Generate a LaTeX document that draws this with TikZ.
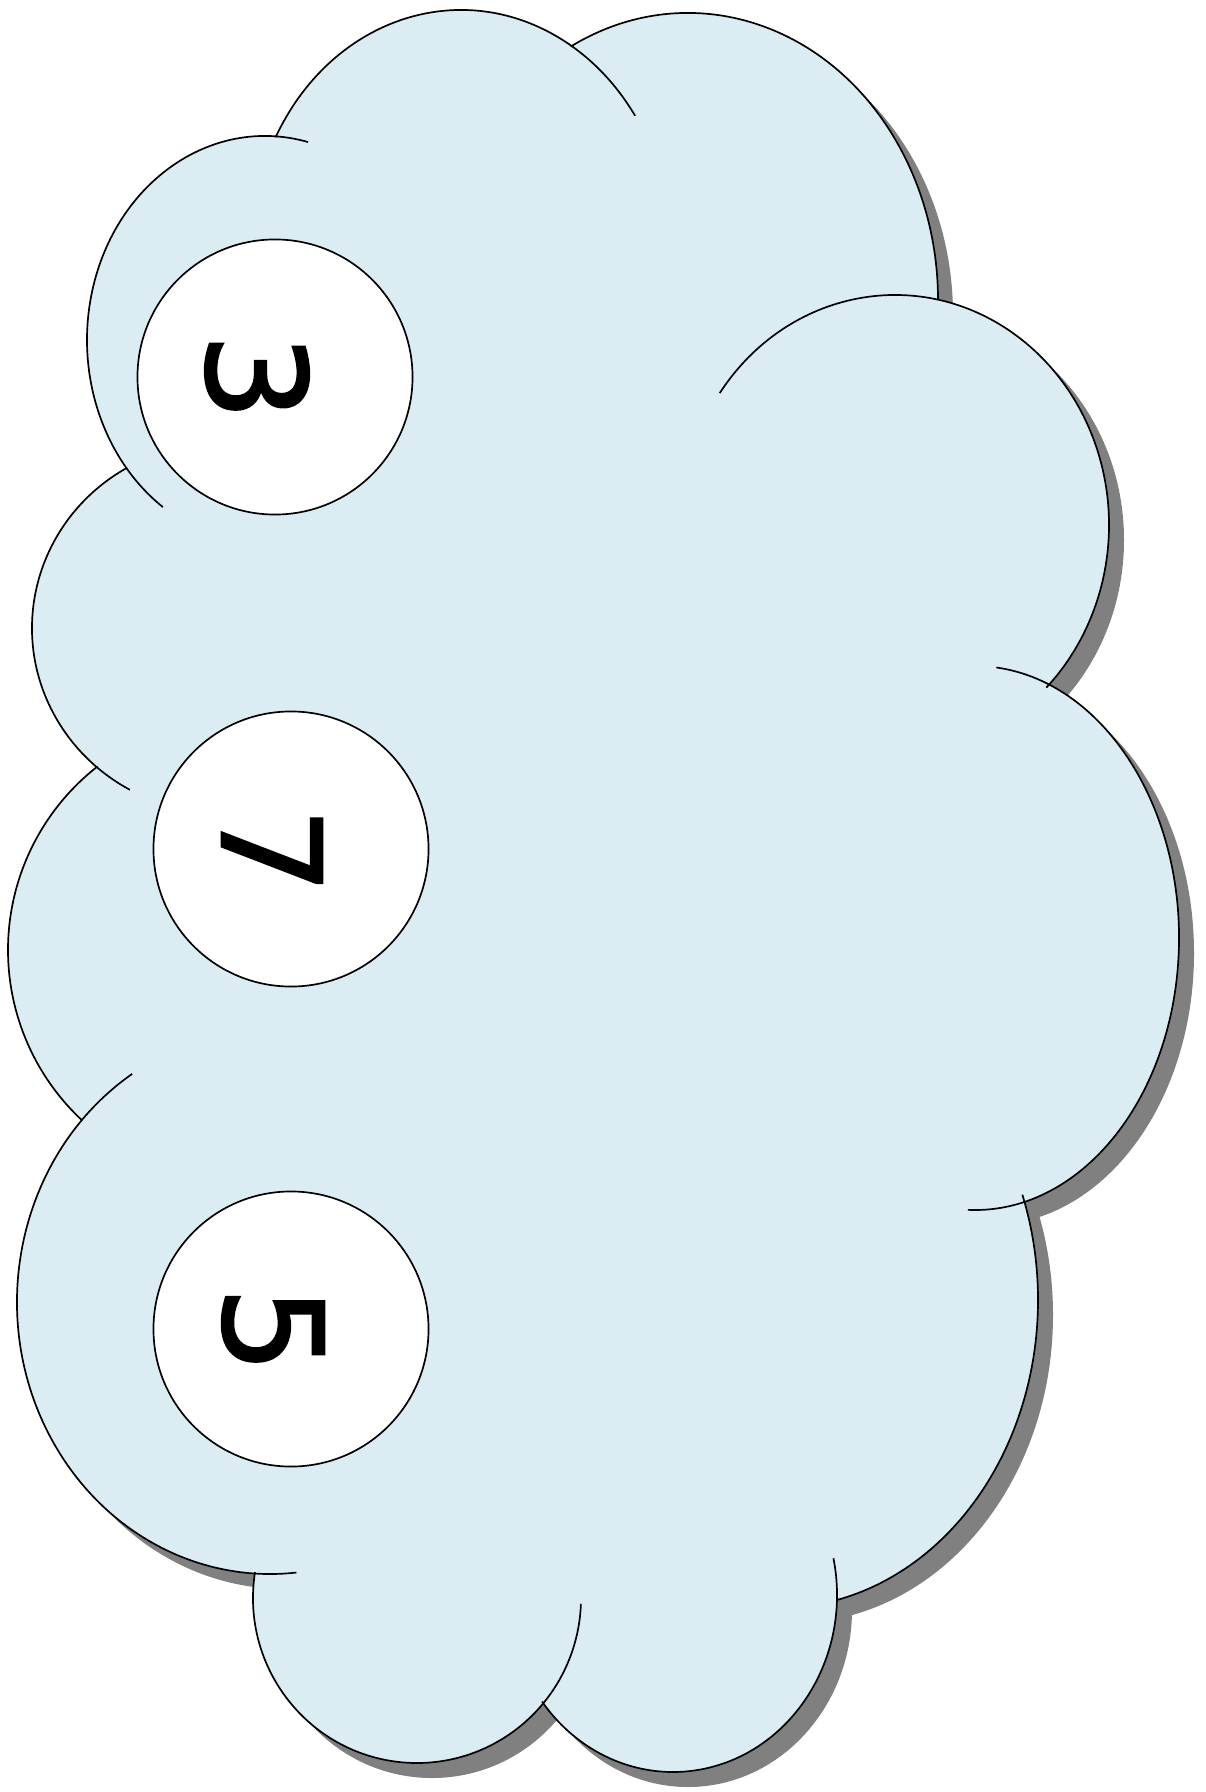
\documentclass[tikz,border=0pt]{standalone}
\usepackage{fontspec}
\usepackage{xcolor}
\usepackage{tikz}
\newfontfamily\digitfont[FakeBold=1.5]{DejaVu Sans}
\definecolor{cloudblue}{HTML}{DBEDF3}
\definecolor{shadowgray}{HTML}{808080}
% lobes: centre x/centre y/x radius/y radius/start angle/end angle
\newcommand\cloudlobes{461/250/210/240/-152/-34, 688/300/250/287/-118/0,
  895/525/214/230/-145/45, 975/938/204/272/-84/92, 778/1300/260/308/-20/77,
  673/1595/164/177/-12/143, 417/1598/164/165/189/2, 270/1302/253/272/237/84,
  241/950/233/233/232/133, 222/628/190/185/240/119, 265/340/178/204/-76/-235}

\begin{document}
\begin{tikzpicture}[x=0.025cm, y=-0.025cm,
    lobe/.style={draw=black, line width=1.2pt},
    ball/.style={circle, draw=black, fill=white, line width=1.2pt, minimum size=6.875cm, inner sep=0pt},
    digit/.style={rotate=-90, inner sep=0pt, font=\digitfont\fontsize{98}{98}\selectfont}]
    \useasboundingbox (0,0) rectangle (1205,1792);

    % Shadow of the cloud
    \begin{scope}[shift={(15,15)}]
      \foreach \cx/\cy/\rx/\ry/\a/\b in \cloudlobes
        \fill[shadowgray] (\cx,\cy) ellipse [x radius=\rx, y radius=\ry];
    \end{scope}

    % Cloud body
    \foreach \cx/\cy/\rx/\ry/\a/\b in \cloudlobes
      \fill[cloudblue] (\cx,\cy) ellipse [x radius=\rx, y radius=\ry];
    \fill[cloudblue] (461,250) -- (688,300) -- (895,525) -- (975,938) -- (778,1300) -- (673,1595)
      -- (417,1598) -- (270,1302) -- (241,950) -- (222,628) -- (265,340) -- cycle;

    % Outline arcs
    \foreach \cx/\cy/\rx/\ry/\a/\b in \cloudlobes
      \draw[lobe] (\cx,\cy) ++({\a}:{\rx} and {\ry}) arc [start angle=\a, end angle=\b, x radius=\rx, y radius=\ry];

    % Numbered balls
    \node[ball] (ball3) at (275,377) {};
    \node[ball] (ball7) at (291,849) {};
    \node[ball] (ball5) at (291,1329) {};

    \node[digit] (num3) at (257,377) {3};
    \node[digit] (num7) at (272,851) {7};
    \node[digit] (num5) at (273,1330) {5};
  \end{tikzpicture}
\end{document}
